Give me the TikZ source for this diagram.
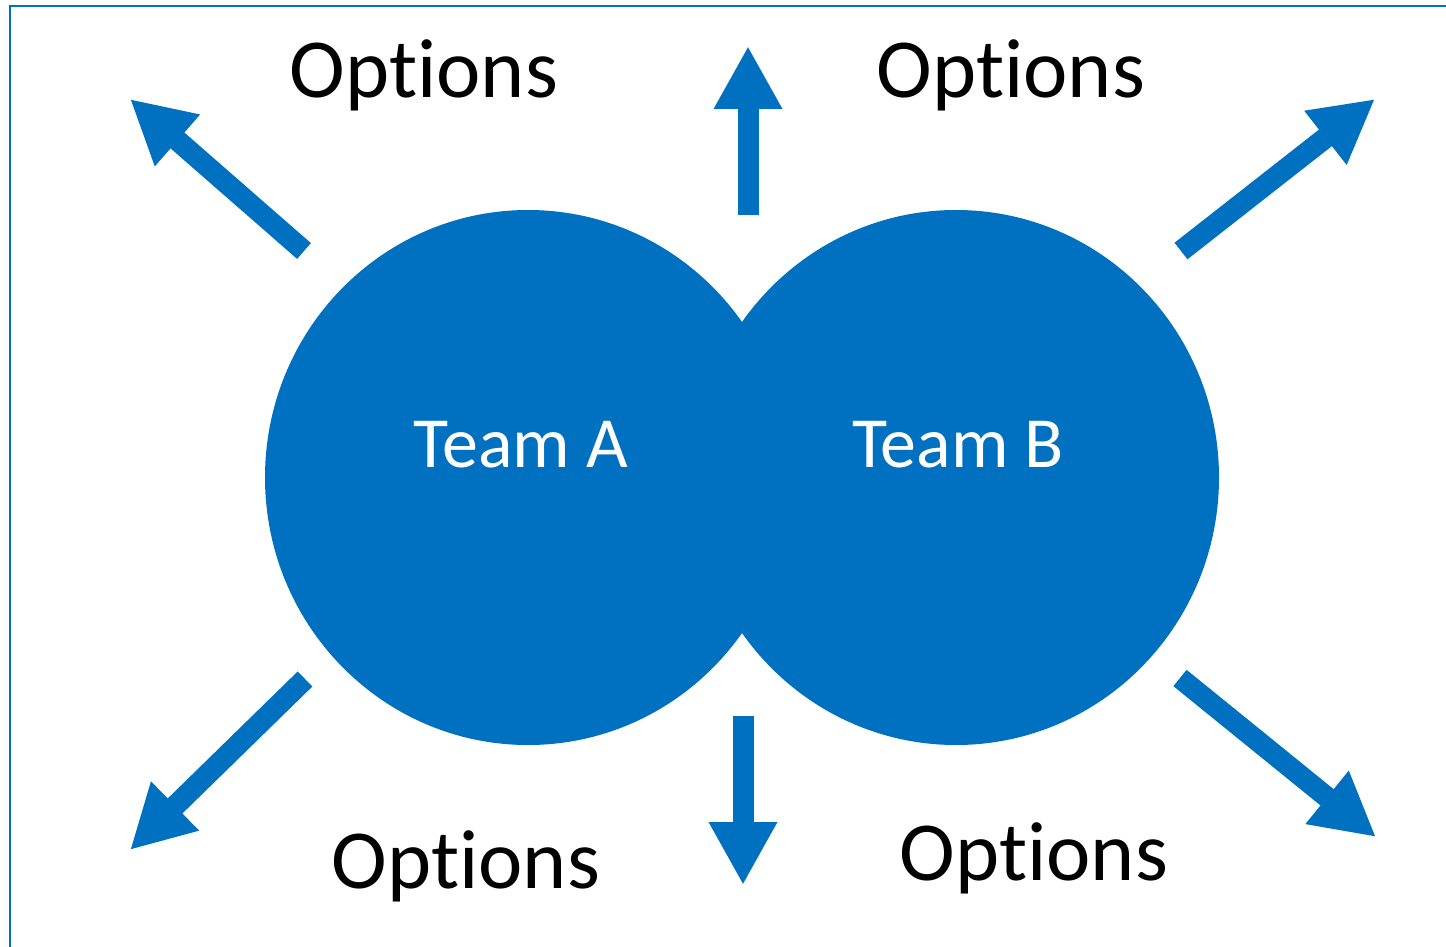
\documentclass[tikz,border=0pt]{standalone}
\usepackage{fontspec}
\setmainfont{Carlito}[Ligatures=NoCommon]
\usetikzlibrary{arrows.meta,shapes.geometric}
\definecolor{teamblue}{HTML}{0070C0}

\begin{document}
\begin{tikzpicture}[x=0.5pt, y=-0.5pt,
  every node/.style = {inner sep=0pt, outer sep=0pt}]
    \tikzstyle{team}=[ellipse, fill=teamblue, minimum width=263pt, minimum height=267.5pt]
    \tikzstyle{teamlabel}=[anchor=base, text=white, font=\fontsize{36}{42}\selectfont]
    \tikzstyle{optlabel}=[anchor=base, text=black, font=\fontsize{42}{50}\selectfont]
    \tikzstyle{outarrow}=[teamblue, line width=10.5pt,
      -{Triangle[length=31.5pt, width=32pt]}]
  \useasboundingbox (0,0) rectangle (1446,947);
  \draw[teamblue, line width=1pt] (9.5,960) -- (9.5,6) -- (1460,6);
  % the two teams
  \node[team] (teamA) at (528,477.5) {};
  \node[team] (teamB) at (956,477.5) {};
  \node[teamlabel] (labelA) at (521,467) {Team A};
  \node[teamlabel] (labelB) at (958,467) {Team B};
  % arrow ends
  \coordinate (ulTail) at (304,251);  \coordinate (ulTip) at (130,99);
  \coordinate (upTail) at (748,215);  \coordinate (upTip) at (748,46);
  \coordinate (urTail) at (1181,251); \coordinate (urTip) at (1375,99);
  \coordinate (llTail) at (305,679);  \coordinate (llTip) at (130,850);
  \coordinate (dnTail) at (743,716);  \coordinate (dnTip) at (743,885);
  \coordinate (lrTail) at (1180,678); \coordinate (lrTip) at (1376,837);
  \foreach \a in {ul,up,ur,ll,dn,lr}
    \draw[outarrow] (\a Tail) -- (\a Tip);
  % options
  \node[optlabel] (optUL) at (424,98) {Options};
  \node[optlabel] (optUR) at (1011,98) {Options};
  \node[optlabel] (optLL) at (466,888) {Options};
  \node[optlabel] (optLR) at (1034,880) {Options};
\end{tikzpicture}
\end{document}
